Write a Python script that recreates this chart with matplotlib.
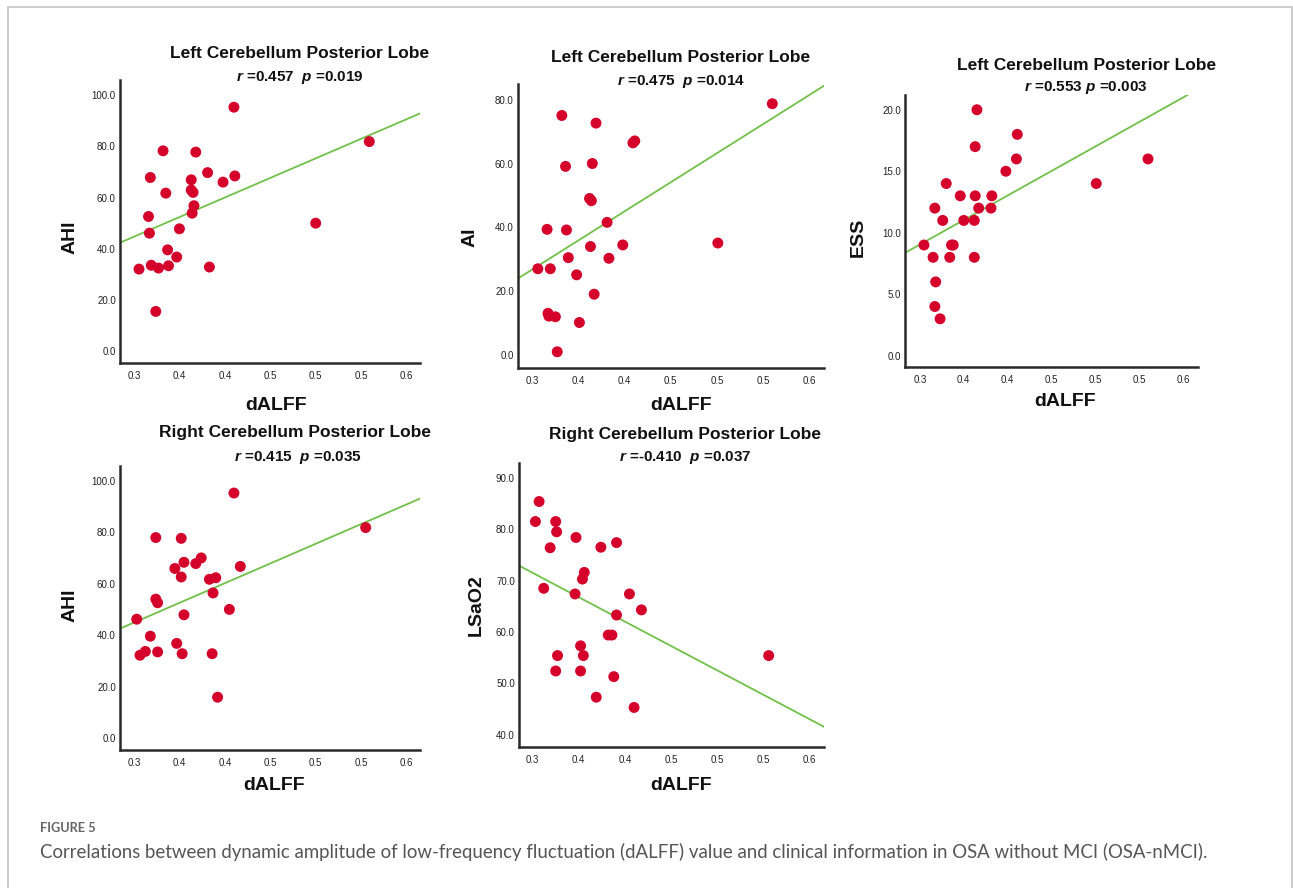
import numpy as np
import matplotlib
matplotlib.use('Agg')
import matplotlib.pyplot as plt
from matplotlib.patches import Rectangle

plt.rcParams['font.family'] = ['Liberation Sans', 'DejaVu Sans']
plt.rcParams['mathtext.fontset'] = 'custom'
plt.rcParams['mathtext.it'] = 'Liberation Sans:italic:bold'
plt.rcParams['mathtext.rm'] = 'Liberation Sans:bold'

W, H = 1293, 888

# x tick labels as printed by SPSS (one decimal)
xticks = [0.30, 0.35, 0.40, 0.45, 0.50, 0.55, 0.60]
xtick_labels = ['0.3', '0.4', '0.4', '0.5', '0.5', '0.5', '0.6']

# panel 1: left cerebellum vs AHI
left_ahi_x = [0.410, 0.559, 0.332, 0.368, 0.318, 0.381, 0.398, 0.411, 0.363, 0.335, 0.363, 0.365, 0.366,
              0.364, 0.316, 0.317, 0.350, 0.500, 0.337, 0.347, 0.3055, 0.319, 0.327, 0.338, 0.383, 0.324]
left_ahi_y = [95.2, 81.8, 78.2, 77.7, 67.8, 69.7, 66.0, 68.4, 66.9, 61.7, 62.9, 62.0, 56.8,
              53.9, 52.6, 46.1, 47.8, 50.0, 39.6, 36.8, 32.1, 33.6, 32.5, 33.4, 32.9, 15.6]

# panel 2: left cerebellum vs AI (two points overlap near 0.41 / 67)
left_ai_x = [0.560, 0.332, 0.369, 0.411, 0.409, 0.336, 0.365, 0.362, 0.364, 0.381, 0.316, 0.337, 0.363,
             0.398, 0.501, 0.339, 0.383, 0.306, 0.3195, 0.348, 0.367, 0.317, 0.318, 0.325, 0.351, 0.327]
left_ai_y = [78.9, 75.2, 72.8, 67.2, 66.6, 59.2, 60.1, 49.1, 48.4, 41.6, 39.4, 39.2, 34.0,
             34.5, 35.1, 30.5, 30.3, 27.0, 27.0, 25.1, 19.0, 13.0, 12.1, 11.9, 10.1, 0.9]

# panel 3: left cerebellum vs ESS
left_ess_x = [0.365, 0.411, 0.363, 0.410, 0.560, 0.398, 0.330, 0.501, 0.346, 0.363, 0.382, 0.317, 0.367,
              0.381, 0.326, 0.350, 0.362, 0.3046, 0.336, 0.338, 0.315, 0.334, 0.362, 0.318, 0.317, 0.323]
left_ess_y = [20, 18, 17, 16, 16, 15, 14, 14, 13, 13, 13, 12, 12,
              12, 11, 11, 11, 9, 9, 9, 8, 8, 8, 6, 4, 3]

# panel 4: right cerebellum vs AHI
right_ahi_x = [0.410, 0.555, 0.324, 0.352, 0.374, 0.368, 0.355, 0.345, 0.417, 0.352, 0.383, 0.390, 0.387,
               0.324, 0.326, 0.303, 0.355, 0.405, 0.318, 0.347, 0.3066, 0.3125, 0.326, 0.353, 0.386, 0.392]
right_ahi_y = [95.3, 81.9, 78.0, 77.7, 70.1, 67.9, 68.4, 66.0, 66.8, 62.7, 61.8, 62.4, 56.5,
               54.1, 52.7, 46.3, 48.0, 50.1, 39.7, 36.9, 32.3, 33.8, 33.6, 32.9, 32.9, 16.0]

# panel 5: right cerebellum vs LSaO2
right_lsao2_x = [0.307, 0.303, 0.325, 0.326, 0.347, 0.319, 0.374, 0.391, 0.356, 0.354, 0.312, 0.346, 0.405,
                 0.418, 0.391, 0.382, 0.386, 0.352, 0.327, 0.355, 0.556, 0.325, 0.352, 0.388, 0.369, 0.410]
right_lsao2_y = [85.4, 81.5, 81.5, 79.5, 78.4, 76.4, 76.5, 77.4, 71.6, 70.3, 68.5, 67.4, 67.4,
                 64.3, 63.3, 59.4, 59.4, 57.3, 55.4, 55.4, 55.4, 52.4, 52.4, 51.3, 47.3, 45.3]

panels = [
    dict(x=left_ahi_x, y=left_ahi_y, ylabel='AHI', title='Left Cerebellum Posterior Lobe',
         stat='$r$ =0.457  $p$ =0.019', box=(120, 80, 420, 363), xlim=(0.2846, 0.6148), ylim=(-4.5, 105.8),
         yticks=[0, 20, 40, 60, 80, 100], title_xy=(300, 53), stat_xy=(300, 77), ylab_xy=(70, 237),
         xlab_xy=(276, 405)),
    dict(x=left_ai_x, y=left_ai_y, ylabel='AI', title='Left Cerebellum Posterior Lobe',
         stat='$r$ =0.475  $p$ =0.014', box=(518, 84, 824, 368), xlim=(0.2845, 0.616), ylim=(-4.2, 85.1),
         yticks=[0, 20, 40, 60, 80], title_xy=(681, 57), stat_xy=(681, 81), ylab_xy=(470, 237),
         xlab_xy=(681, 405)),
    dict(x=left_ess_x, y=left_ess_y, ylabel='ESS', title='Left Cerebellum Posterior Lobe',
         stat='$r$ =0.553 $p$ =0.003', box=(905, 95, 1198, 367), xlim=(0.283, 0.617), ylim=(-0.92, 21.2),
         yticks=[0, 5, 10, 15, 20], title_xy=(1087, 65), stat_xy=(1086, 88), ylab_xy=(858, 237),
         xlab_xy=(1065, 402)),
    dict(x=right_ahi_x, y=right_ahi_y, ylabel='AHI', title='Right Cerebellum Posterior Lobe',
         stat='$r$ =0.415  $p$ =0.035', box=(120, 466, 420, 750), xlim=(0.2846, 0.6148), ylim=(-4.5, 105.8),
         yticks=[0, 20, 40, 60, 80, 100], title_xy=(295, 432), stat_xy=(298, 457), ylab_xy=(70, 605),
         xlab_xy=(274, 785)),
    dict(x=right_lsao2_x, y=right_lsao2_y, ylabel='LSaO2', title='Right Cerebellum Posterior Lobe',
         stat='$r$ =-0.410  $p$ =0.037', box=(519, 463, 824, 747), xlim=(0.2852, 0.616), ylim=(37.6, 92.9),
         yticks=[40, 50, 60, 70, 80, 90], title_xy=(685, 434), stat_xy=(685, 458), ylab_xy=(476, 605),
         xlab_xy=(681, 785)),
]

fig = plt.figure(figsize=(W / 100, H / 100), dpi=100)
fig.patch.set_facecolor('white')

# thin grey frame around the figure
fig.patches.append(Rectangle((7.5 / W, -0.1), 1284 / W, 1.1 - 7.5 / H, transform=fig.transFigure,
                             fill=False, edgecolor='#c9c9c9', lw=1.3))


def fx(px):
    return px / W


def fy(py):
    return 1 - py / H


for p in panels:
    l, t, r, b = p['box']
    ax = fig.add_axes([fx(l), fy(b), (r - l) / W, (b - t) / H])
    ax.scatter(p['x'], p['y'], s=62, color='#d4002b', edgecolors='none', zorder=3)
    slope, icpt = np.polyfit(p['x'], p['y'], 1)
    xs = np.array(p['xlim'])
    ax.plot(xs, slope * xs + icpt, color='#72c04a', lw=1.3, zorder=2)
    ax.set_xlim(p['xlim'])
    ax.set_ylim(p['ylim'])
    ax.set_xticks(xticks)
    ax.set_xticklabels(xtick_labels)
    ax.set_yticks(p['yticks'])
    ax.set_yticklabels(['%.1f' % v for v in p['yticks']])
    ax.tick_params(length=0, labelsize=7, labelcolor='#222222')
    ax.tick_params(axis='x', pad=6)
    ax.tick_params(axis='y', pad=3)
    for s in ['top', 'right']:
        ax.spines[s].set_visible(False)
    for s in ['left', 'bottom']:
        ax.spines[s].set_color('#2a2a2a')
        ax.spines[s].set_linewidth(1.8)

    fig.text(fx(p['title_xy'][0]), fy(p['title_xy'][1]), p['title'], ha='center', va='center',
             fontsize=12.5, fontweight='bold', color='#111111')
    fig.text(fx(p['stat_xy'][0]), fy(p['stat_xy'][1]), p['stat'], ha='center', va='center',
             fontsize=11, fontweight='bold', color='#111111')
    fig.text(fx(p['ylab_xy'][0]), fy(p['ylab_xy'][1]), p['ylabel'], ha='center', va='center',
             rotation=90, fontsize=14, fontweight='bold', color='#111111')
    fig.text(fx(p['xlab_xy'][0]), fy(p['xlab_xy'][1]), 'dALFF', ha='center', va='center',
             fontsize=14, fontweight='bold', color='#111111')

fig.text(fx(40), fy(828), 'FIGURE 5', ha='left', va='center', fontsize=9.2,
         family='Lato', fontweight='bold', color='#666666')
cap = fig.text(fx(40), fy(852), 'Correlations between dynamic amplitude of low-frequency fluctuation (dALFF) '
               'value and clinical information in OSA without MCI (OSA-nMCI).', ha='left', va='center',
               fontsize=12, family='Lato', color='#555555')
# stretch caption font so it spans the same width as in the figure
rend = fig.canvas.get_renderer()
wpx = cap.get_window_extent(rend).width
cap.set_fontsize(12 * 1160 / wpx)

fig.savefig('out.png', dpi=100)
